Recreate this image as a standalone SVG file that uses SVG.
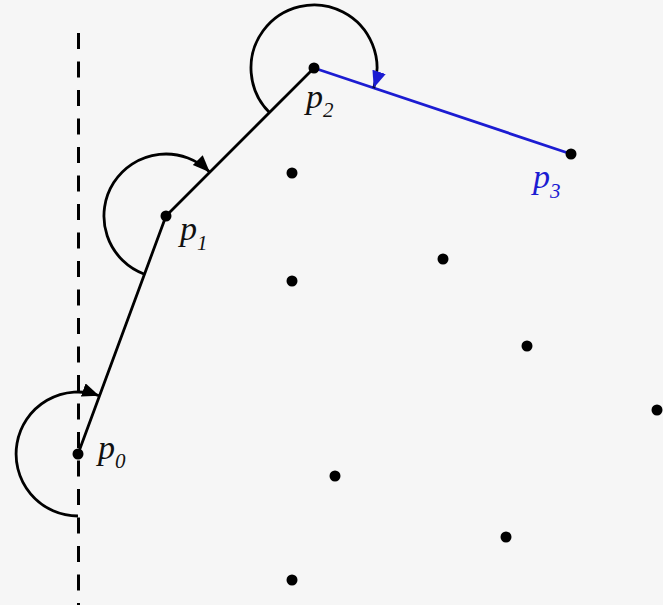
<svg xmlns="http://www.w3.org/2000/svg" width="663" height="605" viewBox="0 0 663 605">
  <defs>
    <style>
      .edge { fill: none; stroke: #000; stroke-width: 2.8; stroke-linecap: round; }
      .blue { stroke: #1c1cd2; }
      .arc { fill: none; stroke: #000; stroke-width: 2.8; }
      .dot { fill: #000; }
      .lbl { font-family: "Liberation Serif", "Times New Roman", serif; font-style: italic; font-size: 34px; fill: #111; }
      .sub { font-size: 21px; }
    </style>
    <marker id="ah" markerUnits="userSpaceOnUse" markerWidth="20" markerHeight="16" refX="17" refY="7" orient="auto">
      <path d="M0,0 L17,7 L0,14 Z" fill="#000"/>
    </marker>
    <marker id="ahb" markerUnits="userSpaceOnUse" markerWidth="20" markerHeight="16" refX="17" refY="7" orient="auto">
      <path d="M0,0 L17,7 L0,14 Z" fill="#1c1cd2"/>
    </marker>
  </defs>

  <rect width="663" height="605" fill="#f6f6f6"/>

  <g id="connectors">
    <line x1="78.5" y1="33" x2="78.5" y2="605" stroke="#000" stroke-width="3" stroke-dasharray="16 12.5"/>
    <line class="edge" x1="78" y1="454" x2="166" y2="216"/>
    <line class="edge" x1="166" y1="216" x2="314" y2="68"/>
    <line class="edge blue" x1="314" y1="68" x2="571" y2="154"/>
    <path id="angle0" class="arc" d="M78,516 A62,62 0 1 1 99.2,395.7" marker-end="url(#ah)"/>
    <path id="angle1" class="arc" d="M144.5,274.2 A62,62 0 1 1 209.8,172.2" marker-end="url(#ah)"/>
    <path id="angle2" class="arc" stroke="#1c1cd2" d="M269.5,112.5 A63,63 0 1 1 373.7,88" marker-end="url(#ahb)"/>
  </g>

  <g id="p0">
    <circle class="dot" cx="78" cy="454" r="5.5"/>
    <text class="lbl" x="98" y="459">p<tspan class="sub" dy="9">0</tspan></text>
  </g>
  <g id="p1">
    <circle class="dot" cx="166" cy="216" r="5.5"/>
    <text class="lbl" x="180" y="240">p<tspan class="sub" dy="10">1</tspan></text>
  </g>
  <g id="p2">
    <circle class="dot" cx="314" cy="68" r="5.5"/>
    <text class="lbl" x="306" y="108">p<tspan class="sub" dy="9">2</tspan></text>
  </g>
  <g id="p3">
    <circle class="dot" cx="571" cy="154" r="5.5"/>
    <text class="lbl" x="533" y="188" style="fill:#1c1cd2">p<tspan class="sub" dy="10">3</tspan></text>
  </g>

  <g id="points">
    <circle class="dot" cx="292" cy="173" r="5.5"/>
    <circle class="dot" cx="292" cy="281" r="5.5"/>
    <circle class="dot" cx="443" cy="259" r="5.5"/>
    <circle class="dot" cx="527" cy="346" r="5.5"/>
    <circle class="dot" cx="657" cy="410" r="5.5"/>
    <circle class="dot" cx="335" cy="476" r="5.5"/>
    <circle class="dot" cx="506" cy="537" r="5.5"/>
    <circle class="dot" cx="292" cy="580" r="5.5"/>
  </g>
</svg>
